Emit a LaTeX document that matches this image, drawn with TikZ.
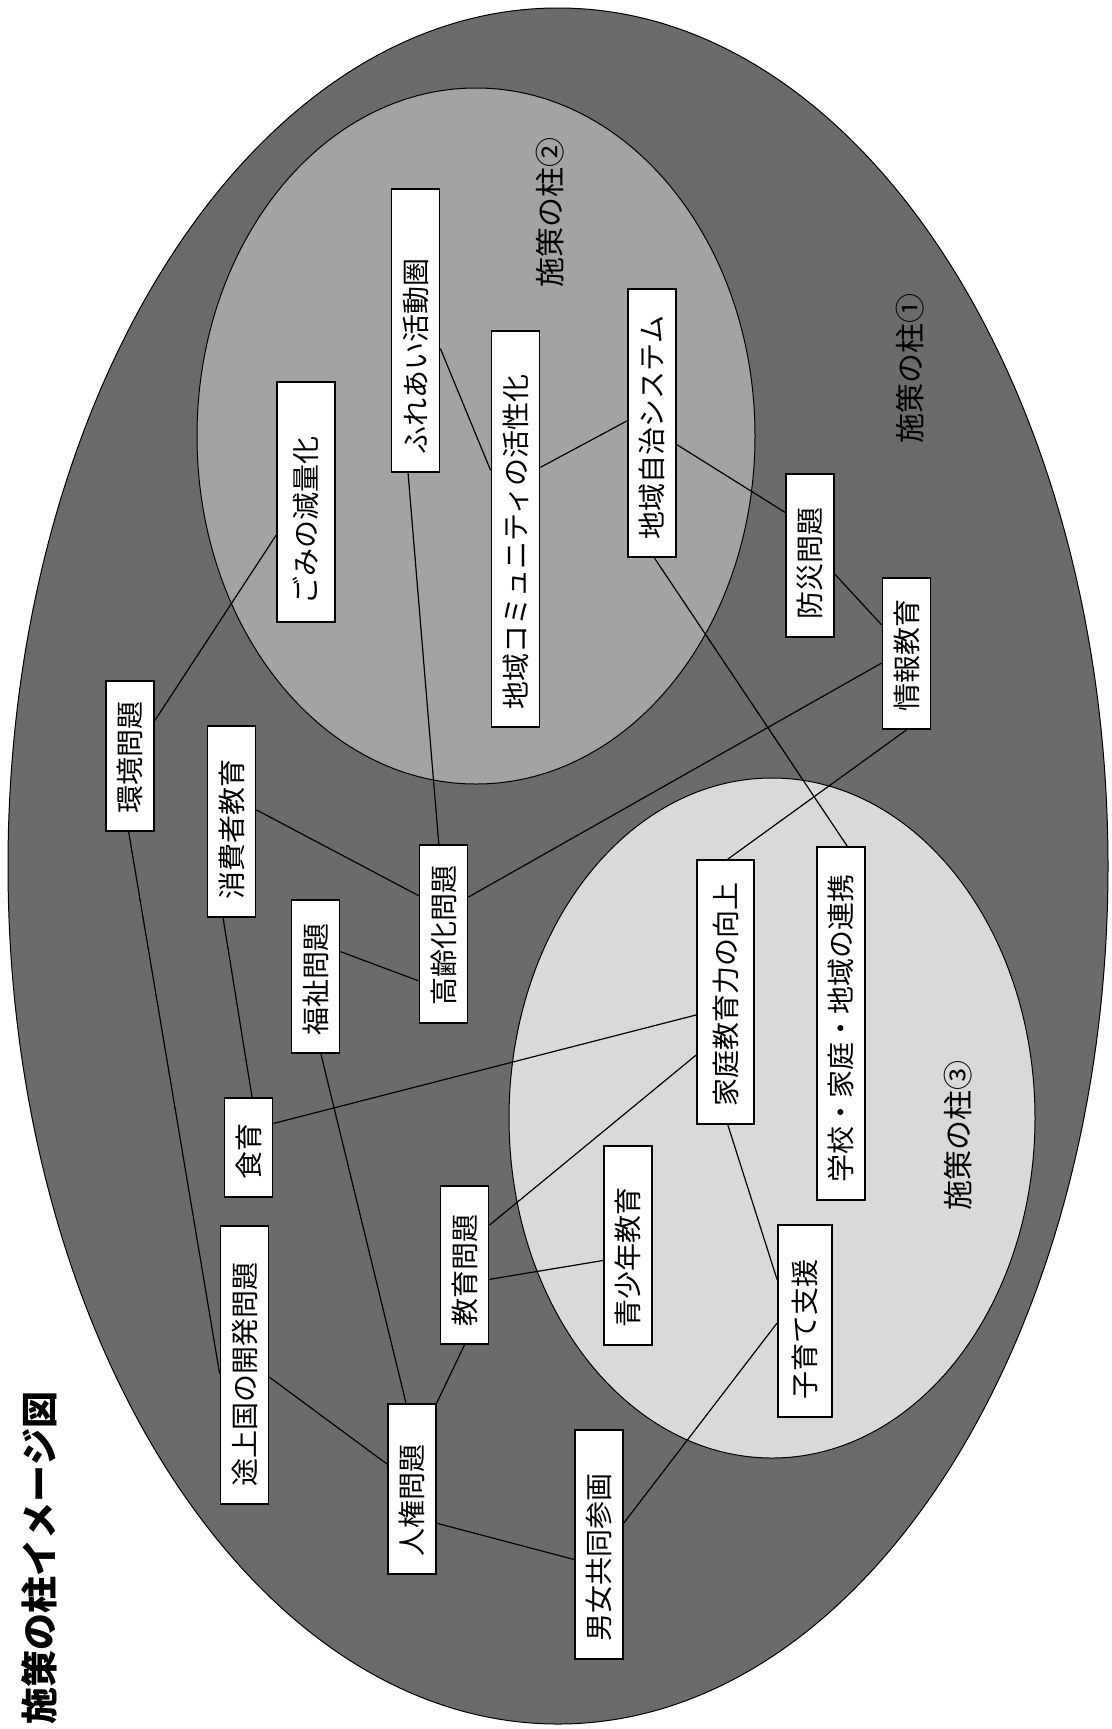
\documentclass[tikz,border=0pt]{standalone}
\usepackage{fontspec}
\newfontfamily\jp{Noto Sans CJK JP}
\usepackage{tikz}

\definecolor{pillarone}{gray}{0.42}
\definecolor{pillartwo}{gray}{0.64}
\definecolor{pillarthree}{gray}{0.85}

\tikzset{
  item/.style={draw=black, line width=0.9pt, fill=white, rotate=90, inner xsep=9pt, inner ysep=0pt,
    minimum height=24pt, align=left, text width=#1, font=\jp\fontsize{14}{16}\selectfont},
  pillar/.style={rotate=90, inner sep=0pt, font=\jp\fontsize{15}{17}\selectfont},
  link/.style={line width=0.6pt},
}

\begin{document}
\begin{tikzpicture}[x=0.5pt,y=0.5pt,yscale=-1,xscale=1]
\useasboundingbox (0,0) rectangle (1112,1729);

%Shape: Ellipse [pillar 1]
\filldraw[fill=pillarone, line width=0.5pt] (558,866) ellipse [x radius=550, y radius=858];
%Shape: Ellipse [pillar 2]
\filldraw[fill=pillartwo, line width=0.5pt] (476,436) ellipse [x radius=279, y radius=348];
%Shape: Ellipse [pillar 3]
\filldraw[fill=pillarthree, line width=0.5pt] (772,1118) ellipse [x radius=263, y radius=340];

% Text Node
\node[rotate=90, inner sep=0pt, font=\jp\bfseries\fontsize{18.5}{21}\selectfont] (title) at (39,1558) {施策の柱イメージ図};
% Text Node
\node[pillar] (label1) at (910,368) {施策の柱①};
% Text Node
\node[pillar] (label2) at (550,212) {施策の柱②};
% Text Node
\node[pillar] (label3) at (958,1135) {施策の柱③};

%Boxes: pillar 2
\node[item=102pt, minimum height=29pt] (gomi) at (306,502) {ごみの減量化};
\node[item=123.5pt] (fureai) at (415.5,330.5) {ふれあい活動圏};
\node[item=180pt] (community) at (515.5,529) {地域コミュニティの活性化};
\node[item=116pt] (jichi) at (652,423) {地域自治システム};
%Boxes: pillar 1
\node[item=63.5pt] (bousai) at (810,555.5) {防災問題};
\node[item=57.5pt] (jouhou) at (906.5,653.5) {情報教育};
\node[item=57pt] (kankyo) at (130,756) {環境問題};
\node[item=77.5pt] (shohisha) at (231.5,821.5) {消費者教育};
\node[item=71pt] (koreika) at (443.5,934) {高齢化問題};
\node[item=58.5pt] (fukushi) at (315.5,976.5) {福祉問題};
\node[item=31.5pt] (shokuiku) at (248.5,1147.5) {食育};
\node[item=121pt] (tojokoku) at (244.5,1365) {途上国の開発問題};
\node[item=61pt] (kyoiku) at (464.5,1265) {教育問題};
\node[item=67pt] (jinken) at (412,1489) {人権問題};
\node[item=96.5pt] (danjo) at (599,1544.5) {男女共同参画};
%Boxes: pillar 3
\node[item=114pt, minimum height=28.5pt] (katei) at (725.5,992) {家庭教育力の向上};
\node[item=158.5pt] (renkei) at (841,1023.5) {学校・家庭・地域の連携};
\node[item=81.5pt] (seishonen) at (628,1245.5) {青少年教育};
\node[item=78pt, minimum height=27pt] (kosodate) at (805,1321) {子育て支援};

%Straight Lines
\draw[link] (kankyo.-35.5) -- (gomi.138.5);
\draw[link] (fureai.234) -- (community.23.8);
\draw[link] (fureai.177.8) -- (koreika.3.5);
\draw[link] (community.-22.7) -- (jichi.85);
\draw[link] (jichi.229) -- (bousai.30.6);
\draw[link] (jichi.181) -- (renkei.-2);
\draw[link] (bousai.233) -- (jouhou.41.7);
\draw[link] (jouhou.111) -- (koreika.-34.2);
\draw[link] (jouhou.180) -- (katei.-1);
\draw[link] (shohisha.-65) -- (koreika.33);
\draw[link] (fukushi.-45) -- (koreika.152.4);
\draw[link] (kankyo.179) -- (tojokoku.109.6);
\draw[link] (shohisha.175) -- (shokuiku.-4);
\draw[link] (fukushi.184) -- (jinken.4);
\draw[link] (shokuiku.-46.1) -- (katei.128.9);
\draw[link] (katei.155.3) -- (kyoiku.-32.9);
\draw[link] (katei.181) -- (kosodate.34);
\draw[link] (kyoiku.240.5) -- (seishonen.121);
\draw[link] (kyoiku.180) -- (jinken.-16.4);
\draw[link] (tojokoku.244) -- (jinken.45);
\draw[link] (jinken.216.3) -- (danjo.121.8);
\draw[link] (kosodate.94) -- (danjo.-49.3);

\end{tikzpicture}
\end{document}
